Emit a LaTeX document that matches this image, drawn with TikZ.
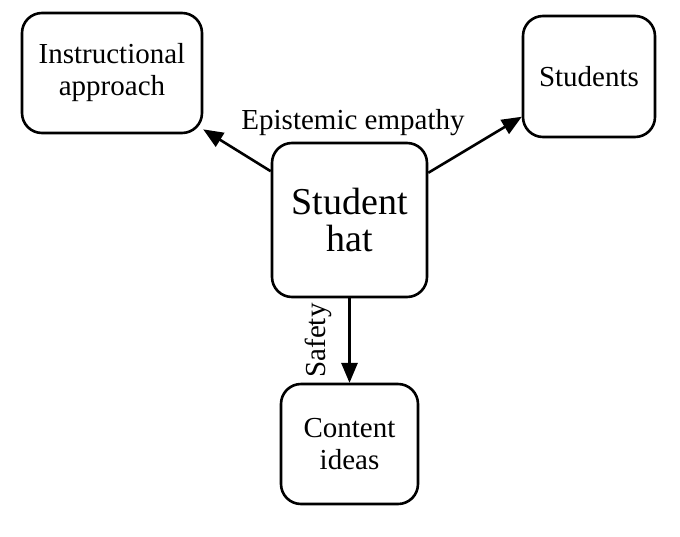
\documentclass[tikz,border=0pt]{standalone}
\usepackage{fontspec}
\setmainfont{Liberation Serif}
\usetikzlibrary{arrows, shapes}

\begin{document}
\begin{tikzpicture}[x=0.5pt,y=-0.5pt,>=triangle 45,line width=1.3pt,
		box/.style={draw,rounded corners=10pt,align=center,inner sep=0pt,font=\fontsize{14.5}{16}\selectfont},
		hub/.style={box,font=\fontsize{19}{18.5}\selectfont}]
		\useasboundingbox (0,0) rectangle (680,536);

		\node[hub,minimum width=77.5pt,minimum height=77pt] (hat)      at (349.5,220) {Student\\hat};
		\node[box,minimum width=90pt,minimum height=60pt]   (approach) at (112,73)    {Instructional\\approach};
		\node[box,minimum width=66pt,minimum height=60.5pt] (students) at (589,76.5)  {Students};
		\node[box,minimum width=68.5pt,minimum height=60pt] (ideas)    at (349.5,444) {Content\\ideas};
		\node[font=\fontsize{14.5}{16}\selectfont]          (empathy)  at (353,123)   {Epistemic empathy};

		\path[->] (hat) edge (approach);
		\path[->] (hat) edge (students);
		\path[->] (hat) edge node[rotate=90,above=5pt,font=\fontsize{14.5}{16}\selectfont] {Safety} (ideas);
	\end{tikzpicture}
\end{document}
